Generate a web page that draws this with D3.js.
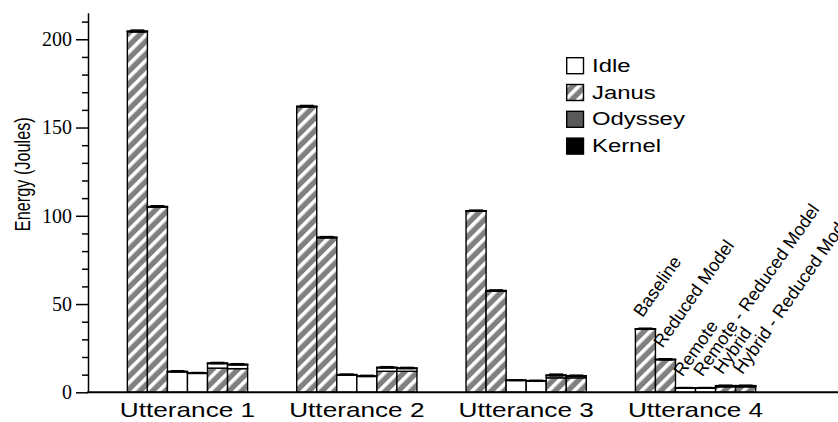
<!DOCTYPE html>
<html>
<head>
<meta charset="utf-8">
<script src="https://cdn.jsdelivr.net/npm/d3@7"></script>
<style>
  html, body { margin: 0; padding: 0; background: #fff; }
  svg { display: block; }
</style>
</head>
<body>
<svg id="chart" width="838" height="422"></svg>
<script>
// Energy per utterance for each speech-recognition configuration,
// stacked by component (Janus at the bottom, then Idle, Odyssey, Kernel).
const utterances = ["Utterance 1", "Utterance 2", "Utterance 3", "Utterance 4"];
const configs = ["Baseline", "Reduced Model", "Remote", "Remote - Reduced Model", "Hybrid", "Hybrid - Reduced Model"];

// one row per utterance, one column per configuration (Joules)
const janus = [
  [204.3, 105.0, 0, 0, 13.7, 13.4],
  [161.8, 87.6, 0, 0, 11.9, 11.9],
  [102.6, 57.4, 0, 0, 8.2, 8.2],
  [35.8, 18.5, 0, 0, 3.1, 3.1]
];
const idle = [
  [0, 0, 11.6, 10.7, 2.6, 2.2],
  [0, 0, 9.8, 9.0, 2.0, 1.6],
  [0, 0, 6.7, 6.4, 1.3, 1.0],
  [0, 0, 2.4, 2.4, 0.5, 0.5]
];
const odyssey = [
  [0.1, 0.1, 0.1, 0.1, 0.1, 0.1],
  [0.1, 0.1, 0.1, 0.1, 0.1, 0.1],
  [0.1, 0.1, 0.1, 0.1, 0.1, 0.1],
  [0.1, 0.1, 0.1, 0.1, 0.1, 0.1]
];
const kernel = [
  [0.3, 0.2, 0.2, 0.2, 0.2, 0.2],
  [0.2, 0.2, 0.2, 0.2, 0.2, 0.2],
  [0.2, 0.2, 0.1, 0.1, 0.2, 0.1],
  [0.1, 0.1, 0.1, 0.1, 0.1, 0.1]
];
// half-width of the error bar on each total
const errors = [
  [0.5, 0.4, 0.3, 0.2, 0.3, 0.3],
  [0.4, 0.3, 0.2, 0.3, 0.3, 0.3],
  [0.3, 0.3, 0.2, 0.2, 0.5, 0.3],
  [0.3, 0.3, 0.1, 0.1, 0.2, 0.2]
];
const seriesNames = ["Idle", "Janus", "Odyssey", "Kernel"];
const majorTicks = [0, 50, 100, 150, 200];
const minorTicks = [10, 20, 30, 40, 60, 70, 80, 90, 110, 120, 130, 140, 160, 170, 180, 190, 210];
const yTitle = "Energy (Joules)";
const labelledGroup = 3; // configuration names are written over the last group

const svg = d3.select("#chart");
const sans = "'Liberation Sans', Arial, Helvetica, sans-serif";
const serif = "'Liberation Serif', 'Times New Roman', serif";
const stretch = 1.29; // wide lettering of the horizontal sans-serif labels

// diagonal hatch for Janus
const defs = svg.append("defs");
const pat = defs.append("pattern")
  .attr("id", "hatch")
  .attr("patternUnits", "userSpaceOnUse")
  .attr("width", 9).attr("height", 9)
  .attr("patternTransform", "rotate(45)");
pat.append("rect").attr("width", 9).attr("height", 9).attr("fill", "#808080");
pat.append("rect").attr("width", 3.6).attr("height", 9).attr("fill", "#ffffff");

const fills = {
  Idle: "#ffffff",
  Janus: "url(#hatch)",
  Odyssey: "#595959",
  Kernel: "#000000"
};
const seriesData = { Janus: janus, Idle: idle, Odyssey: odyssey, Kernel: kernel };
const stackOrder = ["Janus", "Idle", "Odyssey", "Kernel"];

const y = d3.scaleLinear().domain([0, 215]).range([392.3, 12.8]);
const x0 = d3.scaleBand().domain(utterances).range([102.8, 780.2])
  .paddingInner(0.29).paddingOuter(0.145);
const x1 = d3.scaleBand().domain(configs).range([0, x0.bandwidth()]);

// stacked bars
utterances.forEach((u, ui) => {
  const g = svg.append("g").attr("transform", `translate(${x0(u)},0)`);
  configs.forEach((c, ci) => {
    let base = 0;
    stackOrder.forEach(s => {
      const v = seriesData[s][ui][ci];
      if (v <= 0) return;
      g.append("rect")
        .attr("x", x1(c))
        .attr("width", x1.bandwidth())
        .attr("y", y(base + v))
        .attr("height", y(base) - y(base + v))
        .attr("fill", fills[s])
        .attr("stroke", "#000")
        .attr("stroke-width", 1.4);
      base += v;
    });
    // error bar on the total
    const e = errors[ui][ci];
    const cx = x1(c) + x1.bandwidth() / 2;
    const eb = g.append("g").attr("stroke", "#000").attr("stroke-width", 1.5);
    eb.append("line").attr("x1", cx).attr("x2", cx).attr("y1", y(base - e)).attr("y2", y(base + e));
    eb.append("line").attr("x1", cx - 7).attr("x2", cx + 7).attr("y1", y(base + e)).attr("y2", y(base + e));
    eb.append("line").attr("x1", cx - 7).attr("x2", cx + 7).attr("y1", y(base - e)).attr("y2", y(base - e));

    if (ui === labelledGroup) {
      const top = y(base + e);
      g.append("text")
        .attr("transform", `translate(${x1(c) + 7},${top - 10}) rotate(-55)`)
        .attr("font-family", sans)
        .attr("font-size", 18)
        .attr("fill", "#000")
        .text(c);
    }
  });
});

// y axis: major ticks with labels, minor ticks without
const yAxis = svg.append("g")
  .attr("transform", "translate(88,0)")
  .call(d3.axisLeft(y).tickValues(majorTicks).tickSize(12).tickSizeOuter(0).tickPadding(4).tickFormat(d3.format("d")));
yAxis.selectAll("text").attr("font-family", serif).attr("font-size", 20).attr("fill", "#000");
yAxis.selectAll("line").attr("stroke-width", 1.5);
yAxis.select(".domain").attr("stroke-width", 1.5);

const yMinor = svg.append("g")
  .attr("transform", "translate(88,0)")
  .call(d3.axisLeft(y).tickValues(minorTicks).tickSize(6).tickFormat(""));
yMinor.select(".domain").remove();
yMinor.selectAll("line").attr("stroke-width", 1.5);

// baseline
svg.append("line")
  .attr("x1", 87.25).attr("x2", 838)
  .attr("y1", y(0)).attr("y2", y(0))
  .attr("stroke", "#000").attr("stroke-width", 2);

// utterance labels
const xAxis = svg.append("g")
  .attr("transform", `translate(0,${y(0)})`)
  .call(d3.axisBottom(x0).tickSize(0).tickPadding(10.5));
xAxis.select(".domain").remove();
xAxis.selectAll("text")
  .attr("font-family", sans)
  .attr("font-size", 20.3)
  .attr("fill", "#000")
  .attr("transform", `scale(${stretch},1)`);

// y title: full-height glyphs, compressed along the axis
svg.append("text")
  .attr("transform", "translate(29.5,174.2) scale(1,0.74) rotate(-90)")
  .attr("text-anchor", "middle")
  .attr("font-family", sans)
  .attr("font-size", 22)
  .attr("fill", "#000")
  .text(yTitle);

// legend
const legend = svg.append("g").attr("transform", "translate(566,57)");
seriesNames.forEach((name, i) => {
  const row = legend.append("g").attr("transform", `translate(0,${i * 26.8})`);
  row.append("rect")
    .attr("x", 0.7).attr("y", 0.7)
    .attr("width", 16.8).attr("height", 16)
    .attr("fill", fills[name])
    .attr("stroke", "#000")
    .attr("stroke-width", 1.4);
  row.append("text")
    .attr("transform", `translate(26,14.7) scale(${stretch},1)`)
    .attr("font-family", sans)
    .attr("font-size", 18.5)
    .attr("fill", "#000")
    .text(name);
});
</script>
</body>
</html>
